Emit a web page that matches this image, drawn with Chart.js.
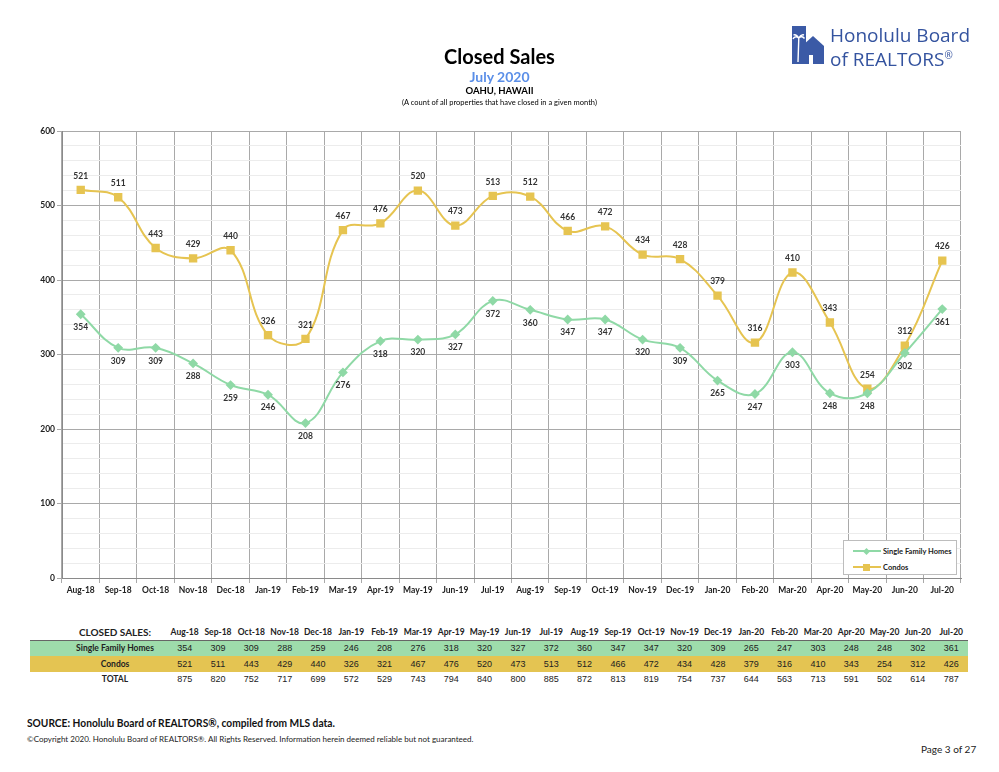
<!DOCTYPE html>
<html>
<head>
<meta charset="utf-8">
<script src="https://cdn.jsdelivr.net/npm/chart.js@4.4.1/dist/chart.umd.min.js"></script>
<style>
  body { margin: 0; background: #fff; width: 999px; height: 772px; position: relative; overflow: hidden; font-family: Lato, "Open Sans", sans-serif; }
  .abs { position: absolute; }
  #chartWrap { position: absolute; left: 0; top: 0; width: 999px; height: 610px; }
  .hd { left: 0; width: 999px; text-align: center; color: #000; }
  #legend { left: 843px; top: 540px; width: 114px; height: 35px; background: #fff; border: 1px solid #bdbdbd; box-sizing: border-box; font-size: 7.5px; font-weight: bold; color: #222; white-space: nowrap; }
  #legend .row { position: absolute; left: 9px; height: 10px; display: flex; align-items: center; }
  #legend .smp { width: 28px; height: 2px; position: relative; margin-right: 2px; }
  #legend .mk { position: absolute; }
  table { border-collapse: collapse; position: absolute; left: 30px; top: 624px; width: 938px; table-layout: fixed; }
  td { height: 15.5px; padding: 0; text-align: center; font-family: "Liberation Sans", Arial, sans-serif; font-size: 9px; color: #222; }
  td.lab { width: 106px; padding-left: 32px; font-family: Lato, sans-serif; font-weight: bold; font-size: 8.5px; white-space: nowrap; }
  tr.head td { font-family: Lato, sans-serif; font-weight: bold; font-size: 8.5px; }
  tr.head td.lab { font-size: 10px; }
  tr.sfh td { background: #9edcab; }
  tr.sfh { border-top: 1px solid #666; }
  tr.con td { background: #e4c452; }
</style>
</head>
<body>
<div id="chartWrap"><canvas id="salesChart"></canvas></div>

<div class="abs hd" style="top:44px;font-size:20px;font-weight:bold;">Closed Sales</div>
<div class="abs hd" style="top:68px;font-size:14px;font-weight:bold;color:#5b8fe8;">July 2020</div>
<div class="abs hd" style="top:85px;font-size:9.5px;font-weight:bold;">OAHU, HAWAII</div>
<div class="abs hd" style="top:98px;font-size:7.5px;">(A count of all properties that have closed in a given month)</div>

<div class="abs" style="left:792px;top:26px;width:190px;height:42px;">
  <svg width="32" height="38" viewBox="0 0 32 38" style="position:absolute;left:0;top:0;">
    <rect x="0" y="0" width="14" height="38" fill="#3b5aa6"/>
    <polygon points="10,20 21,10 32,20 32,38 10,38" fill="#3b5aa6"/>
    <rect x="17" y="29" width="4" height="9" fill="#fff"/>
    <path d="M6,36 L6.8,12 M6.6,12 C4,10 2,11 1,13 M6.6,12 C9,10 11,10.5 12.5,12.5 M6.6,12 C5,9 3,8.5 1.5,9 M6.6,12 C8.5,9 10.5,8.5 12,9" stroke="#fff" stroke-width="1.4" fill="none"/>
  </svg>
  <div class="abs" style="left:38px;top:-1px;font-family:'Open Sans',sans-serif;font-size:19px;font-weight:500;color:#34539f;line-height:20px;white-space:nowrap;">Honolulu Board<br>of REALTORS<sup style="font-size:10px;">®</sup></div>
</div>

<div id="legend" class="abs">
  <div class="row" style="top:5px;"><div class="smp" style="background:#8fd9a6;"><svg class="mk" width="7" height="7" style="top:-2.5px;left:10px;"><polygon points="3.5,0 7,3.5 3.5,7 0,3.5" fill="#8fd9a6"/></svg></div>Single Family Homes</div>
  <div class="row" style="top:21px;"><div class="smp" style="background:#e6c451;"><svg class="mk" width="7" height="7" style="top:-2.5px;left:10px;"><rect width="7" height="7" fill="#e6c451"/></svg></div>Condos</div>
</div>

<table id="dataTable"></table>

<div class="abs" style="left:27px;top:715px;font-size:12px;font-weight:bold;color:#111;white-space:nowrap;transform:scaleX(0.85);transform-origin:left top;">SOURCE: Honolulu Board of REALTORS®, compiled from MLS data.</div>
<div class="abs" style="left:27px;top:734px;font-size:8px;color:#222;">©Copyright 2020. Honolulu Board of REALTORS®. All Rights Reserved. Information herein deemed reliable but not guaranteed.</div>
<div class="abs" style="left:921px;top:743px;font-size:10px;color:#222;">Page 3 of 27</div>

<script>
const months = ['Aug-18','Sep-18','Oct-18','Nov-18','Dec-18','Jan-19','Feb-19','Mar-19','Apr-19','May-19','Jun-19','Jul-19',
    'Aug-19','Sep-19','Oct-19','Nov-19','Dec-19','Jan-20','Feb-20','Mar-20','Apr-20','May-20','Jun-20','Jul-20'];
const singleFamily = [354,309,309,288,259,246,208,276,318,320,327,372,360,347,347,320,309,265,247,303,248,248,302,361];
const condos = [521,511,443,429,440,326,321,467,476,520,473,513,512,466,472,434,428,379,316,410,343,254,312,426];
const totals = [875,820,752,717,699,572,529,743,794,840,800,885,872,813,819,754,737,644,563,713,591,502,614,787];
const yTicks = [0,100,200,300,400,500,600];

// table under the chart
const tbl = document.getElementById('dataTable');
function addRow(cls, label, vals) {
    const tr = document.createElement('tr');
    if (cls) tr.className = cls;
    let html = '<td class="lab">' + label + '</td>';
    vals.forEach(v => { html += '<td>' + v + '</td>'; });
    tr.innerHTML = html;
    tbl.appendChild(tr);
}
addRow('head', 'CLOSED SALES:', months);
addRow('sfh', 'Single Family Homes', singleFamily);
addRow('con', 'Condos', condos);
addRow('', 'TOTAL', totals);

// value labels: green below the point, yellow above
const valueLabels = {
    id: 'valueLabels',
    afterDatasetsDraw(chart) {
        const ctx = chart.ctx;
        ctx.save();
        ctx.font = 'bold 8.5px Lato, sans-serif';
        ctx.fillStyle = '#333';
        ctx.textAlign = 'center';
        ctx.textBaseline = 'middle';
        chart.data.datasets.forEach((ds, i) => {
            const meta = chart.getDatasetMeta(i);
            meta.data.forEach((pt, j) => {
                const dy = ds.labelPos === 'below' ? 13 : -14;
                ctx.fillText(ds.data[j], pt.x, pt.y + dy);
            });
        });
        ctx.restore();
    }
};

const ctx = document.getElementById('salesChart').getContext('2d');
new Chart(ctx, {
    type: 'line',
    data: {
        labels: months,
        datasets: [
            {
                label: 'Single Family Homes',
                data: singleFamily,
                borderColor: '#8fd9a6',
                backgroundColor: '#8fd9a6',
                borderWidth: 2,
                pointStyle: 'rectRot',
                pointRadius: 3.5,
                tension: 0.4,
                labelPos: 'below'
            },
            {
                label: 'Condos',
                data: condos,
                borderColor: '#e6c451',
                backgroundColor: '#e6c451',
                borderWidth: 2,
                pointStyle: 'rect',
                pointRadius: 4.5,
                tension: 0.4,
                labelPos: 'above'
            }
        ]
    },
    options: {
        responsive: true,
        maintainAspectRatio: false,
        animation: false,
        layout: { padding: { top: 131, left: 0, right: 38, bottom: 10 } },
        plugins: { legend: { display: false }, tooltip: { enabled: false } },
        scales: {
            x: {
                offset: true,
                grid: {
                    offset: true,
                    color: '#a9a9a9',
                    tickColor: '#a9a9a9',
                    tickLength: 5
                },
                border: { color: '#8a8a8a' },
                ticks: {
                    autoSkip: false, maxRotation: 0, padding: 2,
                    color: '#222',
                    font: { family: 'Lato, sans-serif', size: 8.5, weight: 'bold' }
                },
                afterFit: s => { s.height = 22; }
            },
            y: {
                min: yTicks[0],
                max: yTicks[yTicks.length - 1],
                grid: {
                    color: c => (c.tick && c.tick.value % 100 === 0) ? '#a9a9a9' : '#ececec',
                    tickColor: c => (c.tick && c.tick.value % 100 === 0) ? '#a9a9a9' : 'rgba(0,0,0,0)',
                    tickLength: 5
                },
                border: { color: '#8a8a8a' },
                ticks: {
                    stepSize: 20, autoSkip: false, padding: 2,
                    color: '#222',
                    font: { family: 'Lato, sans-serif', size: 8.5, weight: 'bold' },
                    callback: v => yTicks.includes(v) ? v : ''
                },
                afterFit: s => { s.width = 62; }
            }
        }
    },
    plugins: [valueLabels]
});
</script>
</body>
</html>
